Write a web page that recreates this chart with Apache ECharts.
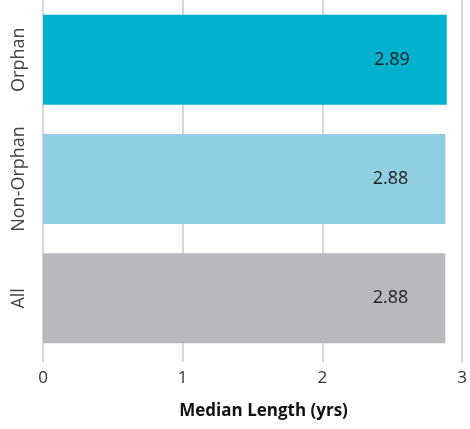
<!DOCTYPE html>
<html>
<head>
<meta charset="utf-8">
<script src="https://cdn.jsdelivr.net/npm/echarts@6/dist/echarts.min.js"></script>
<style>
html,body{margin:0;padding:0;background:#fff;}
#chart{width:470px;height:429px;}
</style>
</head>
<body>
<div id="chart"></div>
<script>
const categories = ['Orphan', 'Non-Orphan', 'All'];
const values = [2.89, 2.88, 2.88];
const barColors = ['#01B2CE', '#8FCFE1', '#BAB8BD'];
const xTicks = [0, 1, 2, 3];
const xTitle = 'Median Length (yrs)';

const chart = echarts.init(document.getElementById('chart'));
chart.setOption({
  animation: false,
  grid: { left: 43, right: 1, top: -2, bottom: 71, containLabel: false },
  xAxis: {
    type: 'value',
    min: xTicks[0],
    max: xTicks[xTicks.length - 1],
    interval: 1,
    name: xTitle,
    nameLocation: 'middle',
    nameGap: 45,
    nameTextStyle: { fontFamily: 'Open Sans', fontWeight: 'bold', fontSize: 17, color: '#111', padding: [0, 0, 0, 22] },
    axisLine: { show: false },
    axisTick: { show: true, length: 4, lineStyle: { color: '#c9c9c9', width: 1.5 } },
    axisLabel: { margin: 12, fontFamily: 'Open Sans', fontSize: 17, color: '#333' },
    splitLine: { show: true, lineStyle: { color: '#c9c9c9', width: 1.5 } }
  },
  yAxis: {
    type: 'category',
    data: categories,
    inverse: true,
    axisLine: { show: false },
    axisTick: { show: false },
    axisLabel: { interval: 0, rotate: 90, margin: 15, fontFamily: 'Open Sans', fontSize: 18, color: '#444' },
    splitLine: { show: false }
  },
  series: [{
    type: 'bar',
    barWidth: 90,
    data: values.map((v, i) => ({ value: v, itemStyle: { color: barColors[i] } })),
    label: {
      show: true,
      position: 'insideRight',
      distance: 37,
      fontFamily: 'Open Sans',
      fontSize: 18,
      color: '#222',
      formatter: p => p.value.toFixed(2)
    }
  }]
});
</script>
</body>
</html>
